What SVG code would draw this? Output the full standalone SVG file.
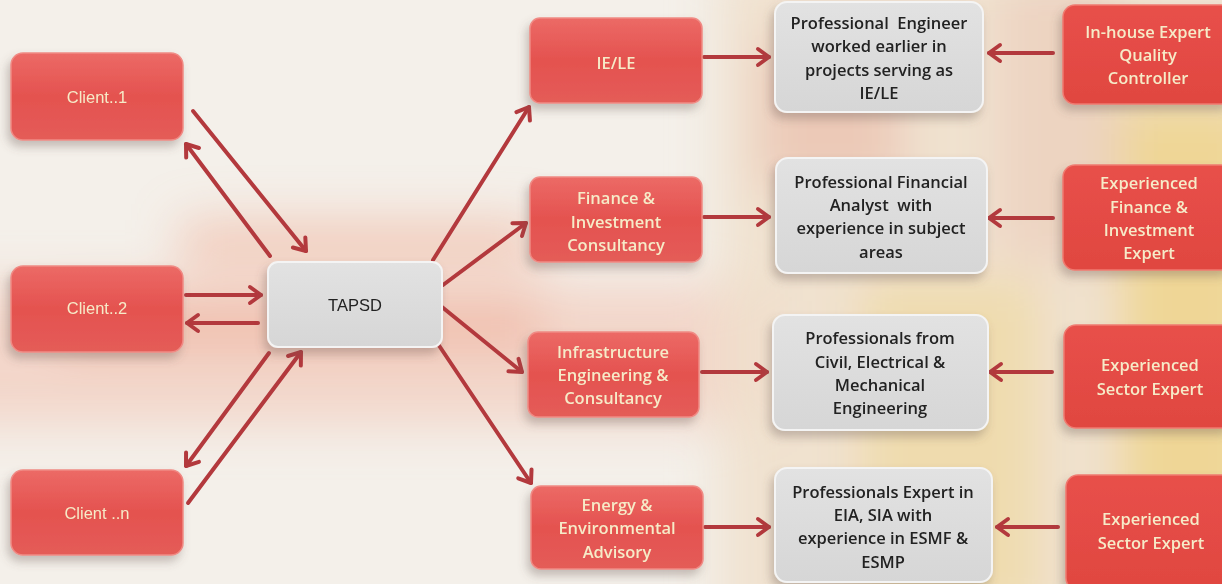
<svg xmlns="http://www.w3.org/2000/svg" width="1222" height="584" viewBox="0 0 1222 584">
<defs>
<filter id="blur" x="-30%" y="-60%" width="160%" height="220%"><feGaussianBlur stdDeviation="24"/></filter>
<filter id="shadow" x="-20%" y="-20%" width="140%" height="150%"><feDropShadow dx="-3" dy="6" stdDeviation="5" flood-color="#6a5a55" flood-opacity="0.35"/></filter>
<linearGradient id="redg" x1="0" y1="0" x2="0" y2="1"><stop offset="0" stop-color="#ec6a66"/><stop offset="0.5" stop-color="#e4524f"/><stop offset="1" stop-color="#e45c58"/></linearGradient>
<linearGradient id="redr" x1="0" y1="0" x2="0" y2="1"><stop offset="0" stop-color="#e8504a"/><stop offset="1" stop-color="#e04640"/></linearGradient>
<linearGradient id="grayg" x1="0" y1="0" x2="0" y2="1"><stop offset="0" stop-color="#e2e2e2"/><stop offset="1" stop-color="#d6d6d6"/></linearGradient>
<marker id="ah" markerUnits="userSpaceOnUse" markerWidth="22" markerHeight="22" viewBox="-4 -11 18 22" refX="11" refY="0" orient="auto">
<path d="M0,-8 L11,0 L0,8" fill="none" stroke="#b3393d" stroke-width="4" stroke-linecap="round" stroke-linejoin="round"/>
</marker>
<style>
.red{fill:url(#redg);stroke:#f08a84;stroke-width:1.5;filter:url(#shadow)}
.redR{fill:url(#redr);stroke:#f07a70;stroke-width:1.5;filter:url(#shadow)}
.gray{fill:url(#grayg);stroke:#f4f4f4;stroke-width:2;filter:url(#shadow)}
.rt{font-family:"Open Sans","Liberation Sans",sans-serif;font-weight:600;font-size:16.5px;fill:#f6ebc8;text-anchor:middle}
.ct{font-family:"Liberation Sans",Arial,sans-serif;font-weight:400;font-size:16.5px;fill:#f6ebc8;text-anchor:middle}
.gt{font-family:"Open Sans","Liberation Sans",sans-serif;font-weight:600;font-size:16.5px;fill:#222;text-anchor:middle}
.tt{font-family:"Liberation Sans",Arial,sans-serif;font-size:16.5px;fill:#222;text-anchor:middle}
.conn line{stroke:#b3393d;stroke-width:4;stroke-linecap:round;marker-end:url(#ah)}
</style>
</defs>
<!-- background -->
<rect width="1222" height="584" fill="#f4f0ea"/>
<g filter="url(#blur)">
<rect x="-60" y="285" width="840" height="140" fill="#f2c4b4" opacity="0.6"/>
<rect x="180" y="220" width="360" height="50" fill="#f0a890" opacity="0.5"/>
<rect x="60" y="300" width="480" height="50" fill="#ee9a84" opacity="0.4"/>
<rect x="720" y="-40" width="560" height="680" fill="#efe0cc" opacity="0.9"/>
<rect x="860" y="280" width="180" height="340" fill="#efd8a0" opacity="0.7"/>
<rect x="1120" y="100" width="140" height="520" fill="#efd27e" opacity="0.7"/>
<rect x="760" y="40" width="140" height="150" fill="#e8b0a0" opacity="0.5"/>
<rect x="1000" y="-20" width="120" height="280" fill="#e8c0b0" opacity="0.45"/>
</g>
<!-- connectors -->
<g id="connectors" class="conn">
<line x1="193" y1="111" x2="306" y2="251"/>
<line x1="270" y1="256" x2="186" y2="144"/>
<line x1="186" y1="295" x2="261" y2="295"/>
<line x1="258" y1="323" x2="187" y2="323"/>
<line x1="269" y1="353" x2="186" y2="466"/>
<line x1="188" y1="503" x2="301" y2="352"/>
<line x1="433" y1="260" x2="529" y2="107"/>
<line x1="443" y1="285" x2="526" y2="223"/>
<line x1="442" y1="307" x2="522" y2="372"/>
<line x1="438" y1="344" x2="531" y2="483"/>
<line x1="704" y1="57" x2="769" y2="57"/>
<line x1="704" y1="217" x2="769" y2="217"/>
<line x1="702" y1="372" x2="767" y2="372"/>
<line x1="705" y1="527" x2="769" y2="527"/>
<line x1="1053" y1="53" x2="989" y2="53"/>
<line x1="1053" y1="218" x2="989" y2="218"/>
<line x1="1052" y1="372" x2="990" y2="372"/>
<line x1="1058" y1="527" x2="997" y2="527"/>
</g>
<!-- clients -->
<g id="client1"><rect class="red" x="11" y="53" width="172" height="87" rx="12"/><text class="ct" x="97" y="103">Client..1</text></g>
<g id="client2"><rect class="red" x="11" y="266" width="172" height="86" rx="12"/><text class="ct" x="97" y="314">Client..2</text></g>
<g id="clientn"><rect class="red" x="11" y="470" width="172" height="85" rx="12"/><text class="ct" x="97" y="519">Client ..n</text></g>
<!-- TAPSD -->
<g id="tapsd"><rect class="gray" x="268" y="262" width="174" height="85" rx="10"/><text class="tt" x="355" y="311">TAPSD</text></g>
<!-- services -->
<g id="iele"><rect class="red" x="530" y="18" width="172" height="85" rx="10"/><text class="rt" x="616" y="69">IE/LE</text></g>
<g id="finance"><rect class="red" x="530" y="177" width="172" height="85" rx="10"/><text class="rt" x="616" y="204">Finance &amp;</text><text class="rt" x="616" y="228">Investment</text><text class="rt" x="616" y="251">Consultancy</text></g>
<g id="infra"><rect class="red" x="528" y="332" width="171" height="85" rx="10"/><text class="rt" x="613" y="358">Infrastructure</text><text class="rt" x="613" y="381">Engineering &amp;</text><text class="rt" x="613" y="404">Consultancy</text></g>
<g id="energy"><rect class="red" x="531" y="486" width="172" height="83" rx="10"/><text class="rt" x="617" y="511">Energy &amp;</text><text class="rt" x="617" y="534">Environmental</text><text class="rt" x="617" y="558">Advisory</text></g>
<!-- professionals -->
<g id="prof1"><rect class="gray" x="775" y="2" width="208" height="110" rx="12"/><text class="gt" x="879" y="29">Professional&#160; Engineer</text><text class="gt" x="879" y="52">worked earlier in</text><text class="gt" x="879" y="76">projects serving as</text><text class="gt" x="879" y="99">IE/LE</text></g>
<g id="prof2"><rect class="gray" x="776" y="158" width="211" height="115" rx="12"/><text class="gt" x="881" y="188">Professional Financial</text><text class="gt" x="881" y="211">Analyst&#160; with</text><text class="gt" x="881" y="234">experience in subject</text><text class="gt" x="881" y="258">areas</text></g>
<g id="prof3"><rect class="gray" x="773" y="315" width="215" height="115" rx="12"/><text class="gt" x="880" y="344">Professionals from</text><text class="gt" x="880" y="368">Civil, Electrical &amp;</text><text class="gt" x="880" y="391">Mechanical</text><text class="gt" x="880" y="414">Engineering</text></g>
<g id="prof4"><rect class="gray" x="775" y="468" width="217" height="114" rx="12"/><text class="gt" x="883" y="498">Professionals Expert in</text><text class="gt" x="883" y="521">EIA, SIA with</text><text class="gt" x="883" y="544">experience in ESMF &amp;</text><text class="gt" x="883" y="568">ESMP</text></g>
<!-- experts -->
<g id="exp1"><rect class="redR" x="1063" y="5" width="170" height="99" rx="12"/><text class="rt" x="1148" y="38">In-house Expert</text><text class="rt" x="1148" y="61">Quality</text><text class="rt" x="1148" y="84">Controller</text></g>
<g id="exp2"><rect class="redR" x="1063" y="165" width="170" height="105" rx="12"/><text class="rt" x="1149" y="189">Experienced</text><text class="rt" x="1149" y="213">Finance &amp;</text><text class="rt" x="1149" y="236">Investment</text><text class="rt" x="1149" y="259">Expert</text></g>
<g id="exp3"><rect class="redR" x="1064" y="325" width="170" height="103" rx="12"/><text class="rt" x="1150" y="371">Experienced</text><text class="rt" x="1150" y="395">Sector Expert</text></g>
<g id="exp4"><rect class="redR" x="1066" y="475" width="170" height="115" rx="12"/><text class="rt" x="1151" y="525">Experienced</text><text class="rt" x="1151" y="549">Sector Expert</text></g>
</svg>
